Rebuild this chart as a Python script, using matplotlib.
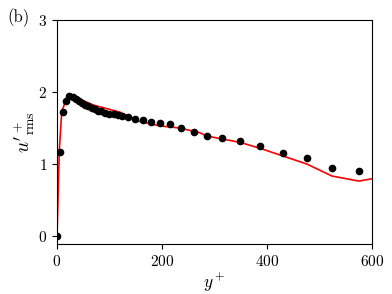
import matplotlib
matplotlib.use("Agg")
import matplotlib.pyplot as plt

plt.rcParams['font.family'] = 'serif'
plt.rcParams['font.serif'] = ['cmr10']
plt.rcParams['mathtext.fontset'] = 'cm'
plt.rcParams['axes.formatter.use_mathtext'] = True
plt.rcParams['axes.unicode_minus'] = False

# DNS data (black dots)
dns_y = [0, 5.7, 12, 16.5, 23.5, 30, 36, 42, 48, 54, 60, 66, 72, 78, 84, 92, 100,
         108, 116, 124, 136, 149, 163, 179, 196, 215, 236, 260, 285, 315, 349,
         387, 430, 476, 524, 575]
dns_u = [0.0, 1.17, 1.72, 1.87, 1.95, 1.93, 1.91, 1.88, 1.85, 1.82, 1.80, 1.78,
         1.76, 1.74, 1.73, 1.71, 1.70, 1.69, 1.68, 1.67, 1.65, 1.625, 1.607,
         1.59, 1.575, 1.55, 1.496, 1.444, 1.39, 1.357, 1.315, 1.254, 1.16,
         1.08, 0.94, 0.907]

# Model (red line)
mod_y = [0, 4.4, 9, 15, 26, 40, 44, 69, 120, 158, 196, 234, 272, 285, 349,
         387, 476, 524, 575, 600]
mod_u = [0.0, 1.19, 1.72, 1.85, 1.97, 1.93, 1.90, 1.82, 1.72, 1.59, 1.53,
         1.50, 1.435, 1.39, 1.30, 1.218, 1.0, 0.833, 0.764, 0.796]

fig = plt.figure(figsize=(3.92, 2.94), dpi=100)
ax = fig.add_axes([0.1454, 0.170, 0.8036, 0.762])

ax.plot(mod_y, mod_u, color='red', lw=1.2, zorder=2)
ax.plot(dns_y, dns_u, 'o', color='black', ms=4.5, zorder=3)

ax.set_xlim(0, 600)
ax.set_ylim(-0.11, 3)
ax.set_xticks([0, 200, 400, 600])
ax.set_yticks([0, 1, 2, 3])
ax.tick_params(labelsize=11, length=3.5)
ax.set_xlabel(r'$y^+$', fontsize=12.5, labelpad=2)
ax.set_ylabel(r"$u'^+_{\mathrm{rms}}$", fontsize=14, labelpad=1)
fig.text(0.018, 0.925, '(b)', fontsize=12)

fig.savefig('out.png', dpi=100)
